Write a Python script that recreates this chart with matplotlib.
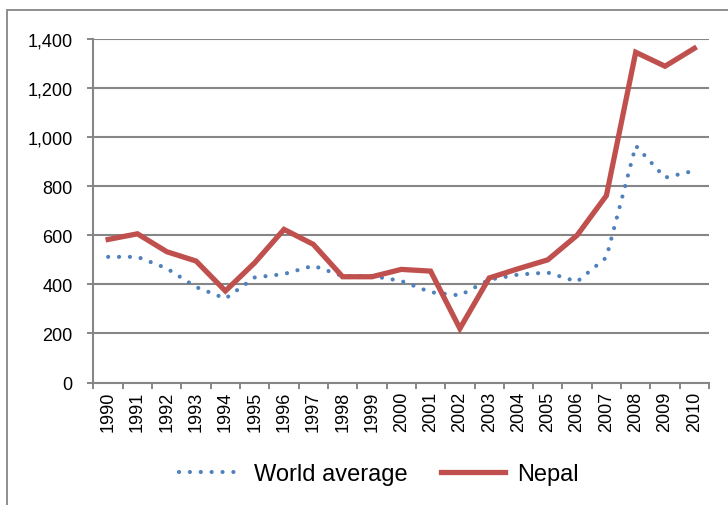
import matplotlib
matplotlib.use("Agg")
import matplotlib.pyplot as plt
from matplotlib.patches import Rectangle
from matplotlib.ticker import FuncFormatter, MultipleLocator

plt.rcParams['font.family'] = ['Liberation Sans', 'DejaVu Sans']

years = [str(y) for y in range(1990, 2011)]
world_avg = [512, 512, 465, 389, 342, 428, 442, 476, 434, 434, 414,
             368, 355, 419, 440, 448, 411, 510, 965, 835, 863]
nepal = [583, 606, 533, 495, 373, 488, 624, 563, 431, 431, 461,
         454, 220, 426, 464, 500, 600, 762, 1346, 1289, 1362]

grey = '#868686'
blue = '#4F81BD'
red = '#C0504D'

fig = plt.figure(figsize=(7.28, 5.06), dpi=100)
ax = fig.add_axes([93.5 / 728, 1 - 383.5 / 506, (709 - 93.5) / 728, (383.5 - 40) / 506])

x = list(range(len(years)))
ax.plot(x, world_avg, color=blue, lw=3.0, linestyle=(0, (0.01, 2.6)),
        dash_capstyle='round', label='World average', zorder=3)
ax.plot(x, nepal, color=red, lw=3.8, solid_joinstyle='miter',
        label='Nepal', zorder=4)

ax.set_xlim(-0.5, len(years) - 0.5)
ax.set_ylim(0, 1400)
ax.yaxis.set_major_locator(MultipleLocator(200))
ax.yaxis.set_major_formatter(FuncFormatter(lambda v, p: f'{int(v):,}'))
ax.set_xticks(x)
ax.set_xticklabels(years, rotation=90, fontsize=13)
ax.set_xticks([i - 0.5 for i in range(len(years) + 1)], minor=True)
ax.tick_params(axis='x', which='major', length=0, pad=6)
ax.tick_params(axis='x', which='minor', length=4, color=grey, width=1.4, direction='out')
ax.tick_params(axis='y', length=4, color=grey, width=1.4, labelsize=13, pad=11)

ax.grid(axis='y', color=grey, lw=1.5)
ax.set_axisbelow(True)
for s in ['top', 'right']:
    ax.spines[s].set_visible(False)
for s in ['left', 'bottom']:
    ax.spines[s].set_color(grey)
    ax.spines[s].set_linewidth(1.5)

fig.legend(loc='center', bbox_to_anchor=(0.52, 1 - 475 / 506), ncol=2,
           frameon=False, fontsize=17, handlelength=2.7, handletextpad=0.5,
           columnspacing=1.4)

fig.add_artist(Rectangle((7 / 728, -0.05), 1.1, 1 - 11 / 506 + 0.05,
                         transform=fig.transFigure, fill=False,
                         edgecolor=grey, lw=1.3))

fig.savefig('out.png', dpi=100)
